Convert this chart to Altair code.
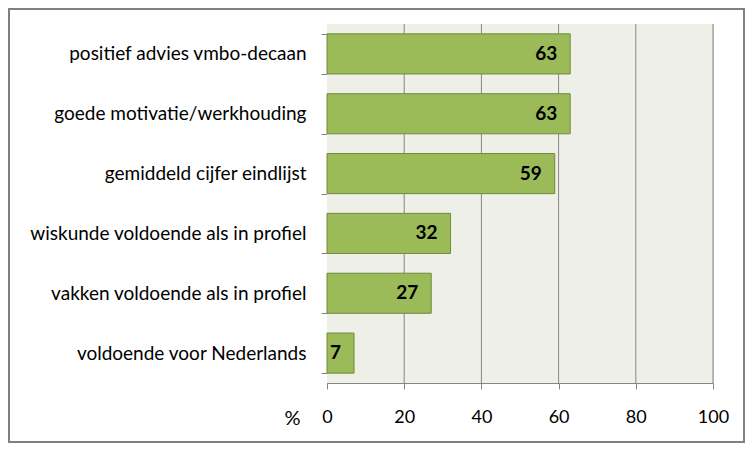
import altair as alt
import pandas as pd

categories = [
    "positief advies vmbo-decaan",
    "goede motivatie/werkhouding",
    "gemiddeld cijfer eindlijst",
    "wiskunde voldoende als in profiel",
    "vakken voldoende als in profiel",
    "voldoende voor Nederlands",
]
values = [63, 63, 59, 32, 27, 7]
x_ticks = [0, 20, 40, 60, 80, 100]

df = pd.DataFrame({"cat": categories, "val": values})
grid_df = pd.DataFrame({"val": x_ticks[1:]})

FONT = "Lato"
W, H = 386, 359

xscale = alt.Scale(domain=[0, 100], nice=False, zero=True)
yscale = alt.Scale(domain=categories, paddingInner=0.33, paddingOuter=0.165)

xaxis = alt.Axis(
    values=x_ticks,
    title="%",
    titleX=-35,
    titleY=35,
    titleAlign="center",
    titleBaseline="middle",
    titleFont=FONT,
    titleFontSize=20,
    titleFontWeight="normal",
    titleColor="#000000",
    labelFont=FONT,
    labelFontSize=18,
    labelColor="#000000",
    labelPadding=19,
    labelFlush=False,
    labelOverlap=False,
    tickSize=6,
    tickColor="#868686",
    domainColor="#868686",
    grid=False,
)

base = alt.Chart(df)

bg = alt.Chart(pd.DataFrame({"k": [0]})).mark_rect(
    fill="#EEF0E8", stroke=None
).encode(
    x=alt.value(0), x2=alt.value(W), y=alt.value(0), y2=alt.value(H),
)

gridlines = alt.Chart(grid_df).mark_rule(color="#868686", strokeWidth=1).encode(
    x=alt.X("val:Q", scale=xscale, axis=xaxis),
    y=alt.value(0),
    y2=alt.value(H),
)

bars = base.mark_bar(color="#9BBB59", stroke="#71893F", strokeWidth=1).encode(
    x=alt.X("val:Q", scale=xscale, axis=xaxis),
    y=alt.Y(
        "cat:N",
        scale=yscale,
        sort=categories,
        axis=alt.Axis(
            title=None,
            labelFont=FONT,
            labelFontSize=19,
            labelColor="#000000",
            labelPadding=15,
            tickSize=6,
            tickBand="extent",
            tickColor="#868686",
            domainColor="#868686",
            grid=False,
            labelLimit=400,
        ),
    ),
)

labels = base.mark_text(
    align="right", baseline="middle", dx=-13, font=FONT, fontSize=19,
    fontWeight="bold", color="#000000",
).encode(
    x=alt.X("val:Q", scale=xscale),
    y=alt.Y("cat:N", scale=yscale, sort=categories),
    text=alt.Text("val:Q"),
)

frame = alt.Chart(pd.DataFrame({"k": [0]})).mark_rect(
    fill=None, stroke="#808080", strokeWidth=2, clip=False
).encode(
    x=alt.value(-318), x2=alt.value(417), y=alt.value(-15), y2=alt.value(418)
)

chart = (
    alt.layer(bg, gridlines, frame, bars, labels)
    .properties(
        width=W,
        height=H,
        autosize=alt.AutoSizeParams(type="none"),
        padding={"left": 319, "top": 16, "right": 32, "bottom": 60},
    )
    .configure_view(stroke=None)
    .configure(background="#FFFFFF")
)

chart.save("out.html", embed_options={"renderer": "svg", "actions": False})
